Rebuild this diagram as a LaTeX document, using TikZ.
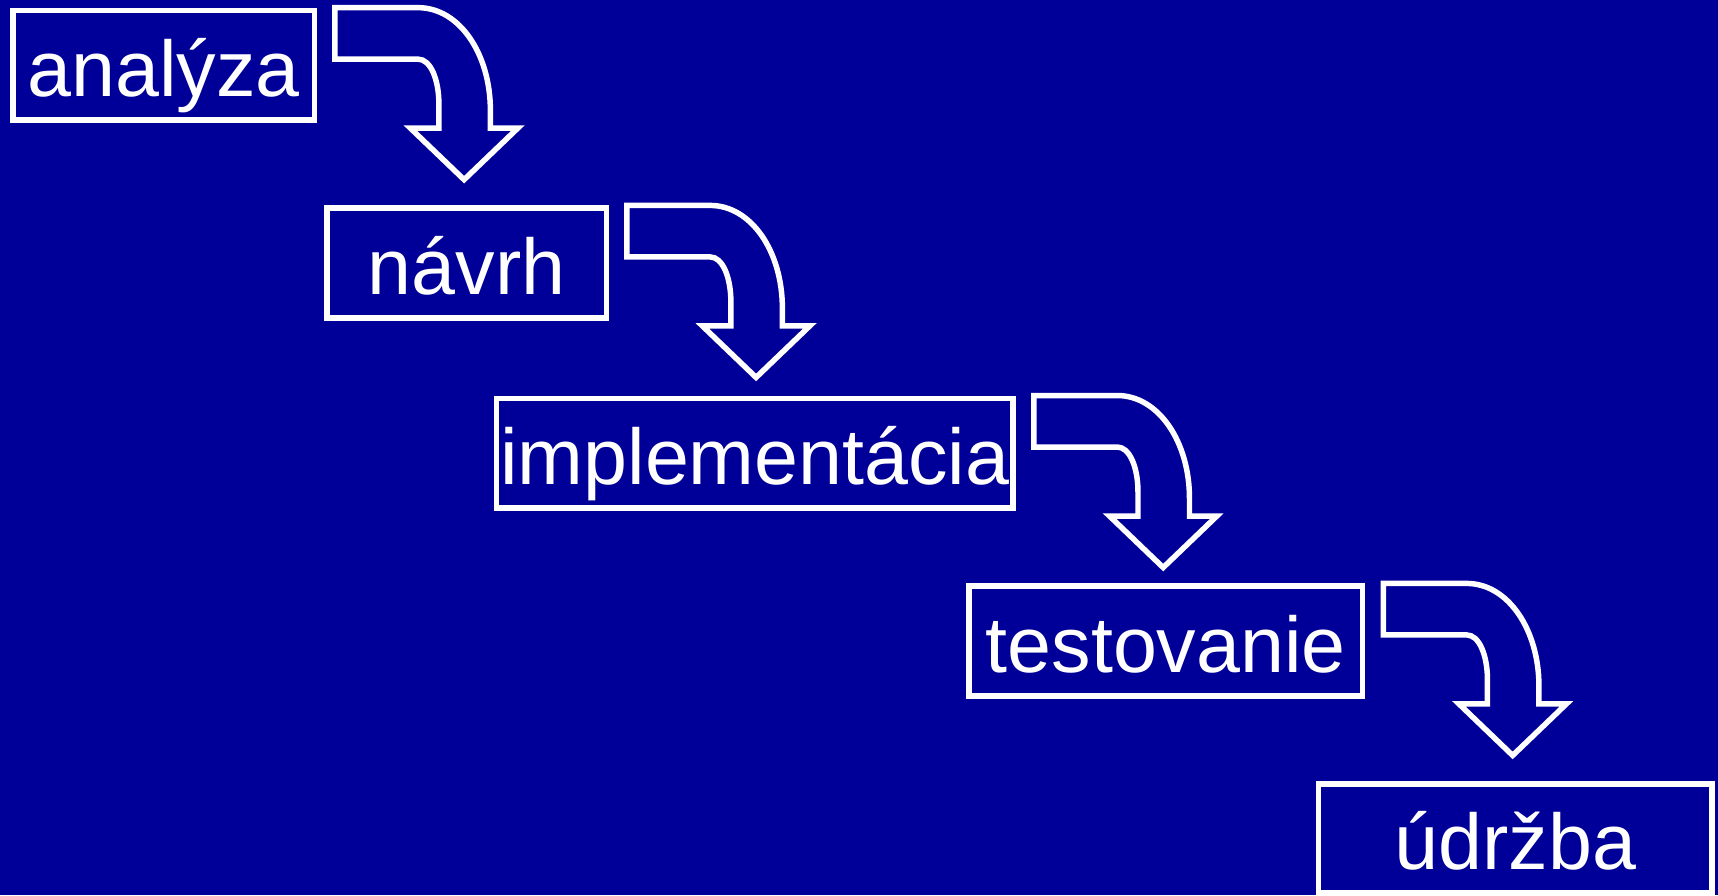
\documentclass[tikz,border=0pt]{standalone}
\usepackage{fontspec}
\setmainfont{Liberation Sans}
\usetikzlibrary{calc}
\definecolor{bgblue}{RGB}{0,0,153}
\begin{document}
\begin{tikzpicture}[x=0.01cm,y=-0.01cm,
  phase/.style={draw=white,line width=0.05cm,text=white,inner xsep=0pt,inner ysep=0pt,
    minimum height=1.0cm,text height=0.77cm,text depth=0.2cm,
    font=\fontsize{20.5pt}{24pt}\selectfont},
  blockarrow/.style={draw=white,line width=0.05cm}]
\fill[bgblue] (0,0) rectangle (1568,817);
\useasboundingbox (0,0) rectangle (1568,817);
\node[phase,minimum width=2.75cm] (b1) at (149.5,59.5) {analýza};
\node[phase,minimum width=2.55cm] (b2) at (426,240) {návrh};
\node[phase,minimum width=4.71cm] (b3) at (689,413.5) {implementácia};
\node[phase,minimum width=3.59cm] (b4) at (1064,585) {testovanie};
\node[phase,minimum width=3.59cm,minimum height=0.99cm] (b5) at (1383,765) {údržba};
\foreach \n/\d in {b1/16,b2/16,b3/16.5,b4/16.5}{
  \begin{scope}[shift={($(\n.north east)+(\d,0)$)}]
    \draw[blockarrow] (0,0) -- (76,0)
      .. controls (113.6,0) and (142,42) .. (142,94)
      -- (142,110) -- (167,110) -- (118,157) -- (69,110) -- (95,110) -- (95,88)
      .. controls (95,66) and (87.6,47) .. (76,47)
      -- (0,47) -- cycle;
  \end{scope}
}
\end{tikzpicture}
\end{document}
